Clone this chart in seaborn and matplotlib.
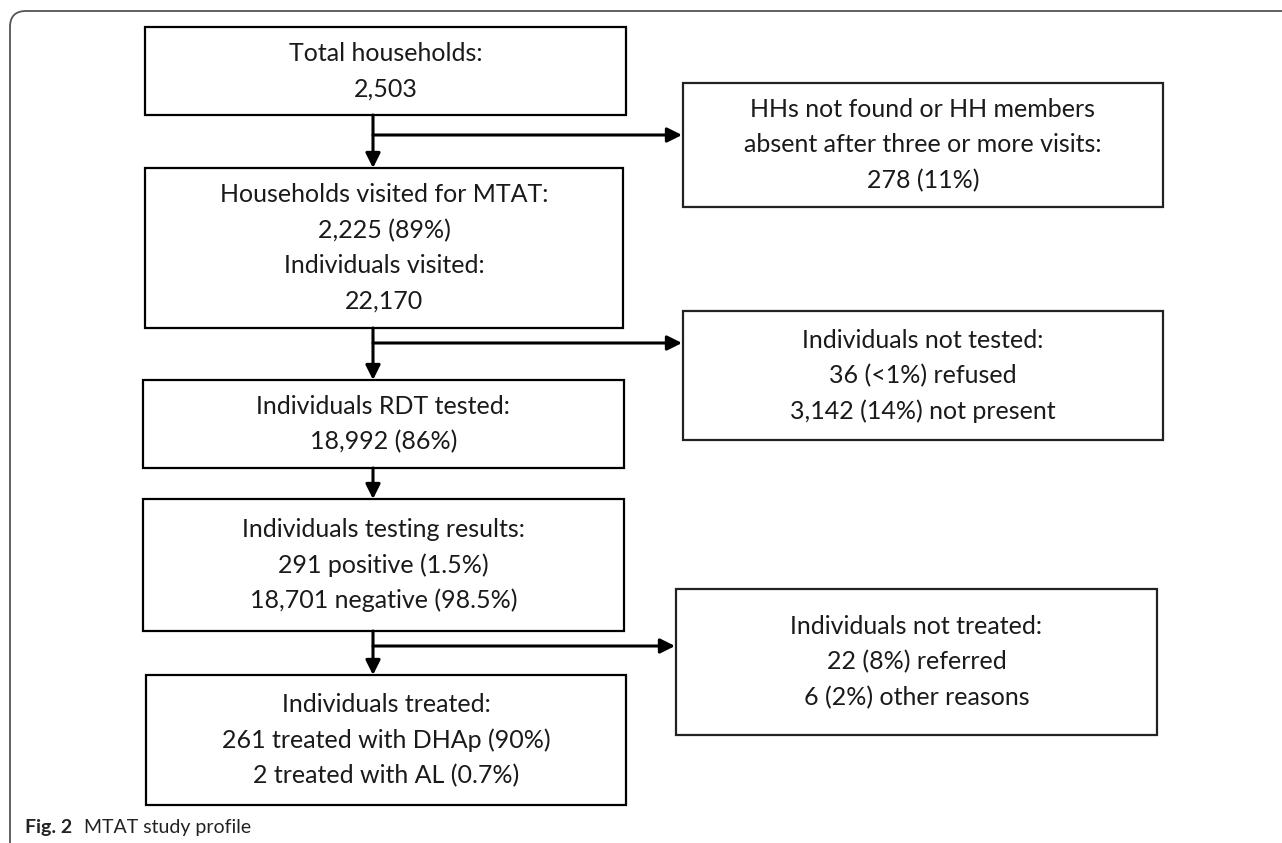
import matplotlib
matplotlib.use("Agg")
import matplotlib.pyplot as plt
import seaborn as sns
from matplotlib.patches import Rectangle, FancyBboxPatch, FancyArrowPatch

sns.set_theme(style="white")
plt.rcParams['font.family'] = ['Lato', 'DejaVu Sans']

# box texts (main column, top to bottom)
main_texts = [
    ["Total households:", "2,503"],
    ["Households visited for MTAT:", "2,225 (89%)", "Individuals visited:", "22,170"],
    ["Individuals RDT tested:", "18,992 (86%)"],
    ["Individuals testing results:", "291 positive (1.5%)", "18,701 negative (98.5%)"],
    ["Individuals treated:", "261 treated with DHAp (90%)", "2 treated with AL (0.7%)"],
]
# side boxes (exclusions)
side_texts = [
    ["HHs not found or HH members", "absent after three or more visits:", "278 (11%)"],
    ["Individuals not tested:", "36 (<1%) refused", "3,142 (14%) not present"],
    ["Individuals not treated:", "22 (8%) referred", "6 (2%) other reasons"],
]
caption_bold = "Fig. 2"
caption_text = "MTAT study profile"

# layout in pixel units (x0, y0, x1, y1)
main_boxes = [(145, 27, 626, 115), (145, 168, 623, 328), (143, 380, 624, 468),
              (143, 499, 624, 631), (146, 675, 626, 805)]
side_boxes = [(683, 83, 1163, 207), (683, 311, 1163, 440), (676, 589, 1157, 735)]
# main box index the side branch leaves from, and y of the branch
branches = [(0, 135), (1, 343), (3, 646)]
arrow_x = 373

fig = plt.figure(figsize=(12.82, 8.43), dpi=100)
ax = fig.add_axes([0, 0, 1, 1])
ax.set_xlim(0, 1282)
ax.set_ylim(843, 0)
ax.axis("off")

# outer frame, rounded at left corners, running off the right and bottom edges
frame = FancyBboxPatch((10, 11), 1400, 860, boxstyle="round,pad=0,rounding_size=16",
                       fill=False, ec="#555555", lw=1.3)
ax.add_patch(frame)

FS = 18
LINE = 35.5


def draw_box(b, lines, ec="black"):
    x0, y0, x1, y1 = b
    ax.add_patch(Rectangle((x0, y0), x1 - x0, y1 - y0, fill=True, fc="white",
                           ec=ec, lw=1.6, zorder=2))
    cx = (x0 + x1) / 2
    cy = (y0 + y1) / 2
    n = len(lines)
    for i, t in enumerate(lines):
        y = cy + (i - (n - 1) / 2) * LINE
        ax.text(cx, y, t, ha="center", va="center", fontsize=FS, color="#1a1a1a", zorder=3)


for b, t in zip(main_boxes, main_texts):
    draw_box(b, t)
for b, t in zip(side_boxes, side_texts):
    draw_box(b, t, ec="#222222")

# vertical arrows between main boxes
for top, bot in zip(main_boxes[:-1], main_boxes[1:]):
    a = FancyArrowPatch((arrow_x, top[3]), (arrow_x, bot[1]), arrowstyle="-|>",
                        mutation_scale=22, color="black", lw=2.2, shrinkA=0, shrinkB=0, zorder=4)
    ax.add_patch(a)

# side branches
for (mi, y), sb in zip(branches, side_boxes):
    a = FancyArrowPatch((arrow_x, y), (sb[0] - 1, y), arrowstyle="-|>",
                        mutation_scale=22, color="black", lw=2.2, shrinkA=0, shrinkB=0, zorder=4)
    ax.add_patch(a)

# caption
ax.text(25, 827, caption_bold, ha="left", va="center", fontsize=14, fontweight="bold",
        color="#222222")
ax.text(84, 827, caption_text, ha="left", va="center", fontsize=14, color="#222222")

fig.savefig("out.png", dpi=100)
